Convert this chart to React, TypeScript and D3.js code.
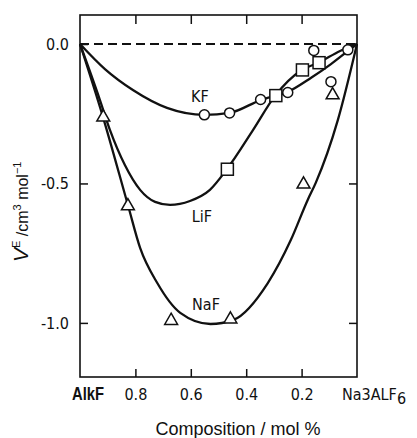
import React, { useEffect, useRef } from "react";
import * as d3 from "d3";

const xTicks = [0.8, 0.6, 0.4, 0.2];
const yTicks = [0.0, -0.5, -1.0];

// measured points (mole fraction of AlkF, V^E)
const kfX = [0.551, 0.46, 0.348, 0.25, 0.156, 0.094, 0.033];
const kfY = [-0.254, -0.247, -0.199, -0.174, -0.023, -0.135, -0.021];
const lifX = [0.468, 0.293, 0.197, 0.137];
const lifY = [-0.449, -0.185, -0.093, -0.067];
const nafX = [0.916, 0.827, 0.671, 0.457, 0.193, 0.088];
const nafY = [-0.263, -0.581, -0.992, -0.987, -0.503, -0.183];

// fitted curves
const kfFitX = [1, 0.91, 0.809, 0.686, 0.551, 0.46, 0.348, 0.25, 0.167, 0.094, 0.033, 0];
const kfFitY = [0, -0.09, -0.165, -0.229, -0.254, -0.247, -0.201, -0.172, -0.122, -0.072, -0.025, 0];
const lifFitX = [1, 0.928, 0.892, 0.838, 0.783, 0.729, 0.675, 0.603, 0.531, 0.469, 0.375, 0.296, 0.199, 0.141, 0.061, 0];
const lifFitY = [0, -0.201, -0.308, -0.434, -0.523, -0.566, -0.577, -0.563, -0.523, -0.448, -0.308, -0.186, -0.093, -0.068, -0.025, 0];
const nafFitX = [1, 0.917, 0.826, 0.783, 0.721, 0.638, 0.529, 0.446, 0.322, 0.239, 0.178, 0.149, 0.069, 0];
const nafFitY = [0, -0.262, -0.581, -0.731, -0.857, -0.964, -1.004, -0.989, -0.857, -0.703, -0.559, -0.498, -0.272, 0];

const curveLabels = ["KF", "LiF", "NaF"];
const labelX = [0.567, 0.56, 0.545];
const labelY = [-0.208, -0.638, -0.953];

const W = 417;
const H = 438;
const FONT = "'DejaVu Sans Condensed', 'DejaVu Sans', sans-serif";
const SANS = "'Liberation Sans', Arial, sans-serif";

function zip(xs: number[], ys: number[]): [number, number][] {
  return xs.map((v, i) => [v, ys[i]] as [number, number]);
}

export default function App() {
  const ref = useRef<SVGSVGElement | null>(null);

  useEffect(() => {
    const svg = d3.select(ref.current);
    svg.selectAll("*").remove();

    const x = d3.scaleLinear().domain([1, 0]).range([80, 357]);
    const y = d3.scaleLinear().domain([0.104, -1.194]).range([15, 377]);
    const fmt = (d: d3.NumberValue) => (+d).toFixed(1);

    // frame
    svg.append("rect")
      .attr("x", 80).attr("y", 15)
      .attr("width", 277).attr("height", 362)
      .attr("fill", "none").attr("stroke", "#111").attr("stroke-width", 1.6);

    const gB = svg.append("g").attr("transform", "translate(0,377)")
      .call(d3.axisBottom(x).tickValues(xTicks).tickSize(-8).tickPadding(12).tickFormat(fmt));
    const gT = svg.append("g").attr("transform", "translate(0,15)")
      .call(d3.axisTop(x).tickValues(xTicks).tickSize(-9).tickFormat(() => ""));
    const gL = svg.append("g").attr("transform", "translate(80,0)")
      .call(d3.axisLeft(y).tickValues(yTicks).tickSize(-8).tickPadding(11).tickFormat(fmt));
    const gR = svg.append("g").attr("transform", "translate(357,0)")
      .call(d3.axisRight(y).tickValues(yTicks).tickSize(-8).tickFormat(() => ""));

    [gB, gT, gL, gR].forEach(g => {
      g.select(".domain").remove();
      g.selectAll("line").attr("stroke", "#111").attr("stroke-width", 1.5);
      g.selectAll("text").attr("font-family", FONT).attr("font-size", 16).attr("fill", "#111");
    });

    // end labels of composition axis
    svg.append("text")
      .attr("x", 72).attr("y", 400)
      .attr("font-family", SANS).attr("font-weight", "bold").attr("font-size", 18)
      .attr("textLength", 32).attr("lengthAdjust", "spacingAndGlyphs")
      .attr("fill", "#111")
      .text("AlkF");
    const na = svg.append("text")
      .attr("x", 342).attr("y", 400)
      .attr("font-family", FONT).attr("font-size", 16).attr("fill", "#111");
    na.append("tspan").text("Na3ALF");
    na.append("tspan").attr("dy", 4).text("6");

    // zero line
    svg.append("line")
      .attr("x1", x(1)).attr("x2", x(0))
      .attr("y1", y(0)).attr("y2", y(0))
      .attr("stroke", "#111").attr("stroke-width", 2)
      .attr("stroke-dasharray", "9,5");

    const line = d3.line<[number, number]>()
      .x(d => x(d[0])).y(d => y(d[1]))
      .curve(d3.curveMonotoneX);

    [zip(kfFitX, kfFitY), zip(lifFitX, lifFitY), zip(nafFitX, nafFitY)].forEach(pts => {
      svg.append("path")
        .attr("d", line(pts))
        .attr("fill", "none").attr("stroke", "#111").attr("stroke-width", 2.3);
    });

    // markers
    svg.append("g").selectAll("circle")
      .data(zip(kfX, kfY)).join("circle")
      .attr("cx", d => x(d[0])).attr("cy", d => y(d[1])).attr("r", 5)
      .attr("fill", "#fff").attr("stroke", "#111").attr("stroke-width", 1.5);

    svg.append("g").selectAll("rect")
      .data(zip(lifX, lifY)).join("rect")
      .attr("x", d => x(d[0]) - 6).attr("y", d => y(d[1]) - 6)
      .attr("width", 12).attr("height", 12)
      .attr("fill", "#fff").attr("stroke", "#111").attr("stroke-width", 1.5);

    const tri = d3.symbol(d3.symbolTriangle, 72);
    svg.append("g").selectAll("path")
      .data(zip(nafX, nafY)).join("path")
      .attr("transform", d => `translate(${x(d[0])},${y(d[1])})`)
      .attr("d", tri())
      .attr("fill", "#fff").attr("stroke", "#111").attr("stroke-width", 1.5);

    // curve names
    svg.append("g").selectAll("text")
      .data(curveLabels).join("text")
      .attr("x", (d, i) => x(labelX[i])).attr("y", (d, i) => y(labelY[i]))
      .attr("text-anchor", "middle")
      .attr("font-family", FONT).attr("font-size", 16).attr("fill", "#111")
      .text(d => d);

    // axis titles
    svg.append("text")
      .attr("x", 238).attr("y", 435)
      .attr("text-anchor", "middle")
      .attr("font-family", SANS).attr("font-size", 18).attr("fill", "#111")
      .text("Composition / mol %");

    const yl = svg.append("text")
      .attr("transform", "translate(28,262) rotate(-90)")
      .attr("font-family", SANS).attr("font-size", 16).attr("fill", "#111");
    yl.append("tspan").attr("font-size", 21).attr("font-style", "italic").text("V");
    yl.append("tspan").attr("font-size", 11).attr("dy", -8).text("E");
    yl.append("tspan").attr("dy", 8).text(" /cm");
    yl.append("tspan").attr("font-size", 11).attr("dy", -7).text("3");
    yl.append("tspan").attr("dy", 7).text(" mol");
    yl.append("tspan").attr("font-size", 11).attr("dy", -7).text("−1");
  }, []);

  return (
    <svg
      ref={ref}
      width={W}
      height={H}
      style={{ position: "absolute", left: 0, top: 0, background: "#fff" }}
    />
  );
}
